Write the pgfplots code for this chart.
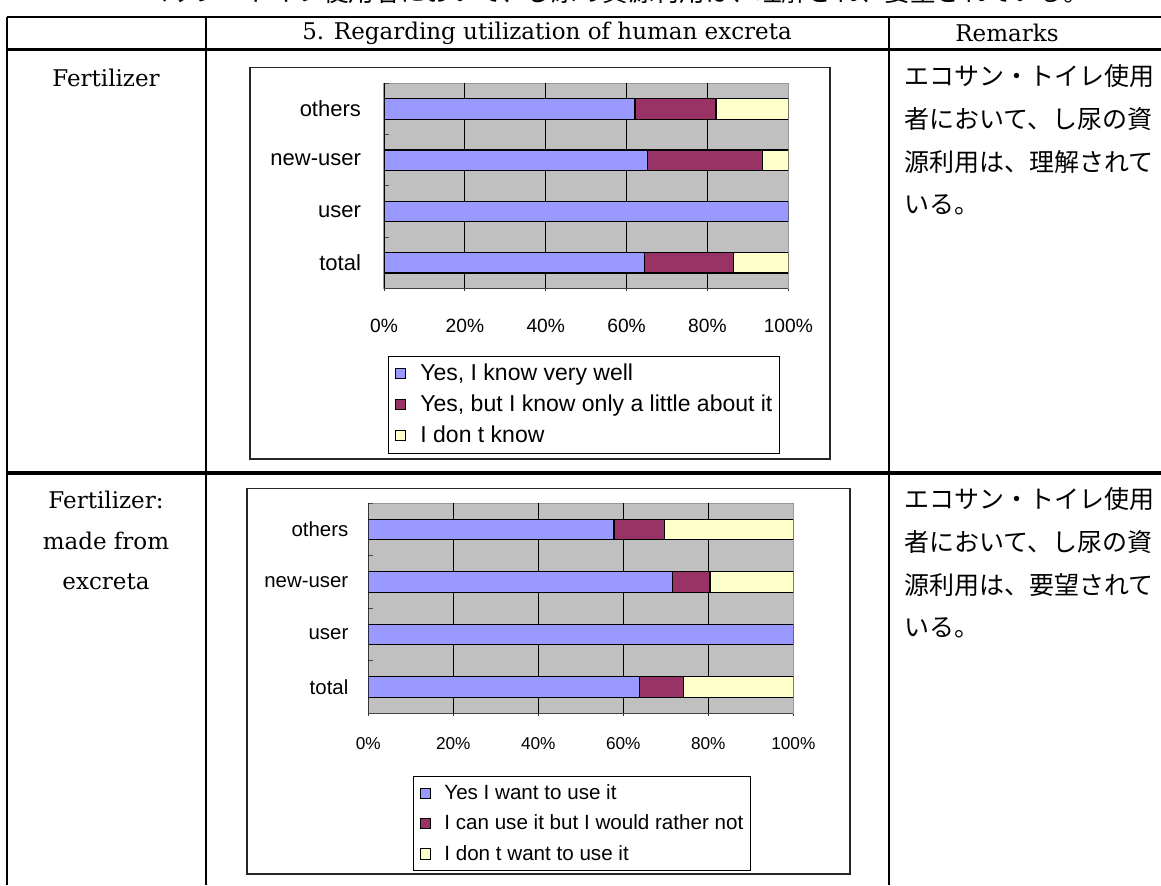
\documentclass[border=0pt]{standalone}
\usepackage{fontspec}
\usepackage{pgfplots}
\pgfplotsset{compat=1.18}
\setmainfont{DejaVu Serif}
\newfontfamily\sansf{Liberation Sans}
\newfontfamily\jp{Noto Sans CJK JP}
\definecolor{cBlue}{HTML}{9999FF}
\definecolor{cMaroon}{HTML}{993366}
\definecolor{cCream}{HTML}{FFFFCC}
\definecolor{cGray}{HTML}{C0C0C0}

\pgfplotsset{
 excelbar/.style={
  xbar stacked, scale only axis, anchor=south west,
  xmin=0, xmax=100, ymin=-0.5, ymax=3.5,
  bar width=10.25pt,
  axis background/.style={fill=cGray},
  axis line style={draw=black!40, line width=0.6pt},
  xtick={0,20,40,60,80,100}, xticklabels={0\%,20\%,40\%,60\%,80\%,100\%},
  xtick pos=bottom, ytick pos=left,
  x tick style={draw=black!80, line width=0.5pt},
  tick align=outside, major tick length=1.5pt,
  extra x ticks={20,40,60,80}, extra x tick labels={},
  extra x tick style={grid=major, major tick length=0pt},
  major grid style={black, line width=0.6pt},
  ytick={0,1,2,3}, yticklabels={total,user,new-user,others},
  y tick style={draw=none},
  extra y ticks={-0.5,0.5,1.5,2.5,3.5}, extra y tick labels={},
  extra y tick style={tick align=inside, major tick length=2.5pt, y tick style={draw=black!70, line width=0.5pt}},
  legend cell align=left,
  legend image code/.code={\draw[#1,line width=0.5pt] (0pt,-2.6pt) rectangle (5.2pt,2.6pt);},
  every axis plot/.append style={draw=black, line width=0.6pt},
 }
}

\begin{document}
\begin{tikzpicture}
\useasboundingbox (0pt,0pt) rectangle (580.5pt,442.5pt);
\clip (0pt,0pt) rectangle (580.5pt,442.5pt);
\fill[white] (0pt,0pt) rectangle (580.5pt,442.5pt);

\begin{scope}[x=0.5pt,y=0.5pt]
% truncated caption line at top
\node[anchor=west, inner sep=0pt, font=\jp\fontsize{12.8pt}{14pt}\selectfont] at (118,893) {エコサン・トイレ使用者において、し尿の資源利用は、理解され、要望されている。};

% table rules
\draw[line width=1pt] (7,868) -- (1161,868);
\draw[line width=1.5pt] (7,835) -- (1161,835);
\draw[line width=2pt] (7,412.3) -- (1161,412.3);
\draw[line width=1pt] (7,868) -- (7,0);
\draw[line width=1pt] (206,868) -- (206,0);
\draw[line width=1pt] (889,868) -- (889,0);

% header
\node[font=\fontsize{11.5pt}{13pt}\selectfont] at (547,852) {5. Regarding utilization of human excreta};
\node[font=\fontsize{11.5pt}{13pt}\selectfont] at (1007,852) {Remarks};

% left column
\node[font=\fontsize{11.5pt}{13pt}\selectfont] at (106,807) {Fertilizer};
\node[font=\fontsize{11.5pt}{13pt}\selectfont] at (106,385) {Fertilizer:};
\node[font=\fontsize{11.5pt}{13pt}\selectfont] at (106,344) {made from};
\node[font=\fontsize{11.5pt}{13pt}\selectfont] at (106,303) {excreta};

% remarks
\begin{scope}[every node/.style={anchor=west, inner sep=0pt, font=\jp\fontsize{12.5pt}{14pt}\selectfont}]
\node at (904,809) {エコサン・トイレ使用};
\node at (904,766) {者において、し尿の資};
\node at (904,723) {源利用は、理解されて};
\node at (904,680) {いる。};
\node at (904,386) {エコサン・トイレ使用};
\node at (904,343) {者において、し尿の資};
\node at (904,300) {源利用は、要望されて};
\node at (904,257) {いる。};
\end{scope}

% chart frames
\draw[line width=0.8pt, black!85] (250,817.3) rectangle (830,426);
\draw[line width=0.8pt, black!85] (246.7,396.7) rectangle (850,11);
\end{scope}

% chart 1
\begin{axis}[excelbar, at={(192pt,298.35pt)}, width=202.15pt, height=102.5pt,
  xticklabel style={font=\sansf\fontsize{9.6}{11}\selectfont, anchor=center, inner sep=0pt, yshift=-17.5pt},
  yticklabel style={font=\sansf\fontsize{11}{13}\selectfont, anchor=east, inner sep=0pt, xshift=-9.85pt},
  legend style={at={(0.0087,-0.330)}, anchor=north west, draw=black, line width=0.5pt, fill=white,
    inner xsep=3.5pt, inner ysep=0.9pt, font=\sansf\fontsize{11.5}{13}\selectfont,
    nodes={inner sep=0pt, minimum height=15.5pt}, row sep=0pt,
    /tikz/every odd column/.append style={column sep=7pt}},
]
\addplot[fill=cBlue] coordinates {(64.5,0) (100,1) (65.2,2) (62.1,3)};
\addlegendentry{Yes, I know very well}
\addplot[fill=cMaroon] coordinates {(21.9,0) (0,1) (28.5,2) (20.0,3)};
\addlegendentry{Yes, but I know only a little about it}
\addplot[fill=cCream] coordinates {(13.6,0) (0,1) (6.3,2) (17.9,3)};
\addlegendentry{I don t know}
\draw[black, line width=0.7pt] (rel axis cs:0,0) -- (rel axis cs:0,1);
\draw[black!75, line width=0.7pt] (rel axis cs:0,0) -- (rel axis cs:1,0);
\end{axis}

% chart 2
\begin{axis}[excelbar, at={(184.15pt,85.85pt)}, width=212.5pt, height=105pt,
  xticklabel style={font=\sansf\fontsize{8.6}{10}\selectfont, anchor=center, inner sep=0pt, yshift=-13.5pt},
  yticklabel style={font=\sansf\fontsize{10.2}{12}\selectfont, anchor=east, inner sep=0pt, xshift=-8.3pt},
  legend style={at={(0.104,-0.2986)}, anchor=north west, draw=black, line width=0.5pt, fill=white,
    inner xsep=3.5pt, inner ysep=0.8pt, font=\sansf\fontsize{10.3}{12}\selectfont,
    nodes={inner sep=0pt, minimum height=15.2pt}, row sep=0pt,
    /tikz/every odd column/.append style={column sep=6.5pt}},
]
\addplot[fill=cBlue] coordinates {(63.9,0) (100,1) (71.5,2) (57.8,3)};
\addlegendentry{Yes I want to use it}
\addplot[fill=cMaroon] coordinates {(10.3,0) (0,1) (8.9,2) (11.9,3)};
\addlegendentry{I can use it but I would rather not}
\addplot[fill=cCream] coordinates {(25.8,0) (0,1) (19.6,2) (30.3,3)};
\addlegendentry{I don t want to use it}
\draw[black, line width=0.7pt] (rel axis cs:0,0) -- (rel axis cs:0,1);
\draw[black!75, line width=0.7pt] (rel axis cs:0,0) -- (rel axis cs:1,0);
\end{axis}
\end{tikzpicture}
\end{document}
